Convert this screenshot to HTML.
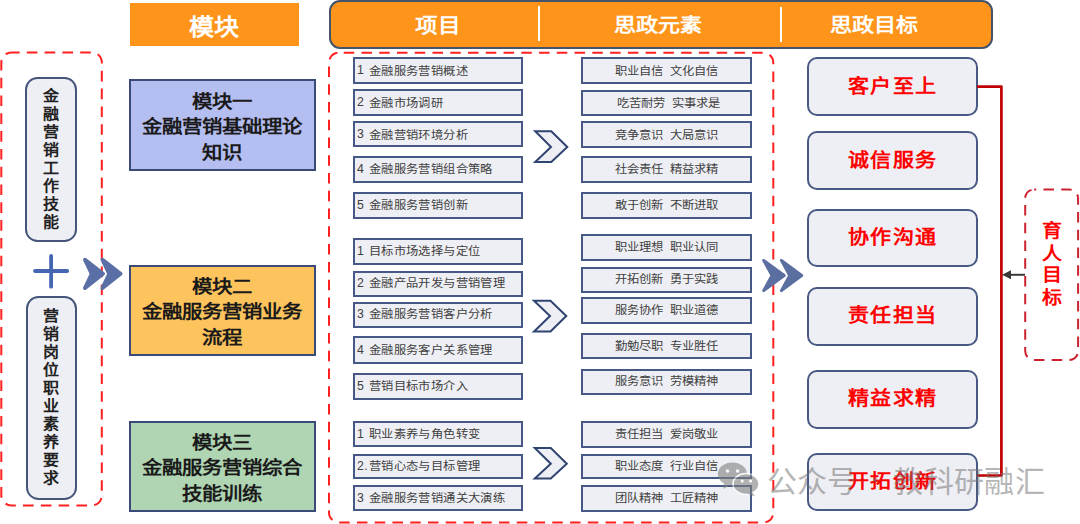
<!DOCTYPE html>
<html lang="zh-CN">
<head>
<meta charset="utf-8">
<style>
*{margin:0;padding:0;box-sizing:border-box;}
html,body{width:1080px;height:524px;overflow:hidden;background:#fff;}
body{position:relative;font-family:"Liberation Sans",sans-serif;}
.a{position:absolute;}
svg.a{left:0;top:0;}
.s{display:inline-block;transform:scaleY(0.9);white-space:pre;}
.hdr{color:#fff;font-weight:bold;font-size:22px;line-height:22px;text-align:center;}
.mod{border:2px solid #3A4B78;}
.mt{position:absolute;left:129.4px;width:186.2px;text-align:center;font-weight:bold;font-size:20.4px;line-height:28.45px;color:#1a1a1a;transform:scaleY(0.9);transform-origin:0 0;}
.vbox{background:#EEEFF4;border:2px solid #46567A;border-radius:12.5px;}
.vt{position:absolute;left:25.5px;width:51.5px;text-align:center;font-weight:bold;font-size:16px;line-height:19.35px;color:#222;transform:scaleY(0.93);transform-origin:0 0;}
.it{left:353px;width:170px;height:27px;background:#EEEFF4;border:2px solid #465886;font-size:12.3px;letter-spacing:0.37px;color:#404040;display:flex;align-items:center;padding-left:2px;padding-bottom:1px;white-space:pre;}
.it b{font-weight:normal;display:inline-block;width:12px;}
.el{left:581.2px;width:170.5px;height:27px;background:#EEEFF4;border:2px solid #465886;font-size:12.3px;color:#404040;display:flex;align-items:center;justify-content:center;white-space:pre;padding-bottom:1px;}
.goal{left:807px;width:170.8px;height:59px;background:#EEEFF4;border:2px solid #485A84;border-radius:10px;color:#FF0000;font-weight:bold;font-size:21px;letter-spacing:1.35px;padding-left:0.5px;display:flex;align-items:center;justify-content:center;padding-bottom:3.6px;}
</style>
</head>
<body>
<!-- under layer: dashed boxes -->
<svg class="a" width="1080" height="524" viewBox="0 0 1080 524">
  <rect x="1.3" y="52.4" width="100.5" height="453" rx="10" fill="none" stroke="#FF2020" stroke-width="2" stroke-dasharray="10.6 7.2" stroke-dashoffset="2.3"/>
  <rect x="329" y="52.7" width="444.3" height="469.8" rx="10" fill="none" stroke="#FF2020" stroke-width="2" stroke-dasharray="10.5 7.26" stroke-dashoffset="-4.7"/>
  <rect x="1025.2" y="189.5" width="52.9" height="170.5" rx="9" fill="none" stroke="#CC2230" stroke-width="2" stroke-dasharray="10.5 7.26" stroke-dashoffset="8.5"/>
</svg>

<!-- headers -->
<div class="a" style="left:130px;top:3px;width:169px;height:43px;background:#FE951A;"></div>
<div class="a" style="left:329px;top:0px;width:663.5px;height:49px;background:#FE951A;border:2px solid #44546A;border-radius:11px;"></div>
<div class="a" style="left:537.7px;top:5.6px;width:2.5px;height:35px;background:#fff;"></div>
<div class="a" style="left:779.7px;top:6.5px;width:2.5px;height:35px;background:#fff;"></div>
<div class="a hdr" style="left:129.5px;top:15.6px;width:169px;font-size:25px;"><span class="s">模块</span></div>
<div class="a hdr" style="left:381px;top:15.5px;width:114px;font-size:22.5px;"><span class="s">项目</span></div>
<div class="a hdr" style="left:600px;top:15px;width:116px;"><span class="s">思政元素</span></div>
<div class="a hdr" style="left:816px;top:15px;width:116px;"><span class="s">思政目标</span></div>

<!-- left vertical boxes -->
<div class="a vbox" style="left:25.2px;top:77.2px;width:51.6px;height:164.8px;"></div>
<div class="a vt" style="top:87px;">金<br>融<br>营<br>销<br>工<br>作<br>技<br>能</div>
<div class="a vbox" style="left:25.5px;top:295.8px;width:51.8px;height:204.2px;"></div>
<div class="a vt" style="top:306.8px;">营<br>销<br>岗<br>位<br>职<br>业<br>素<br>养<br>要<br>求</div>

<!-- modules -->
<div class="a mod" style="left:129.4px;top:79.4px;width:186.2px;height:91.3px;background:#B4BEF0;"></div>
<div class="mt" style="top:88.7px;">模块一<br>金融营销基础理论<br>知识</div>
<div class="a mod" style="left:129.4px;top:265px;width:186.2px;height:91.4px;background:#FDC35C;"></div>
<div class="mt" style="top:274.3px;">模块二<br>金融服务营销业务<br>流程</div>
<div class="a mod" style="left:129.4px;top:420.9px;width:186.2px;height:91.3px;background:#B0D5B3;"></div>
<div class="mt" style="top:429.8px;">模块三<br>金融服务营销综合<br>技能训练</div>

<!-- items left -->
<div class="a it" style="top:56.8px;height:27.6px;"><b>1</b><span class="s">金融服务营销概述</span></div>
<div class="a it" style="top:89.2px;height:26.9px;"><b>2</b><span class="s">金融市场调研</span></div>
<div class="a it" style="top:120.9px;height:26.6px;"><b>3</b><span class="s">金融营销环境分析</span></div>
<div class="a it" style="top:155.9px;height:27.3px;"><b>4</b><span class="s">金融服务营销组合策略</span></div>
<div class="a it" style="top:191.6px;height:27.7px;"><b>5</b><span class="s">金融服务营销创新</span></div>
<div class="a it" style="top:238.2px;height:26.7px;"><b>1</b><span class="s">目标市场选择与定位</span></div>
<div class="a it" style="top:270.8px;height:26.2px;"><b>2</b><span class="s">金融产品开发与营销管理</span></div>
<div class="a it" style="top:301.6px;height:26.7px;"><b>3</b><span class="s">金融服务营销客户分析</span></div>
<div class="a it" style="top:336.4px;height:27.7px;"><b>4</b><span class="s">金融服务客户关系管理</span></div>
<div class="a it" style="top:372.5px;height:27.3px;"><b>5</b><span class="s">营销目标市场介入</span></div>
<div class="a it" style="top:420.9px;height:26.5px;"><b>1</b><span class="s">职业素养与角色转变</span></div>
<div class="a it" style="top:453.5px;height:25.8px;"><b>2.</b><span class="s">营销心态与目标管理</span></div>
<div class="a it" style="top:485px;height:26.1px;"><b>3</b><span class="s">金融服务营销通关大演练</span></div>

<!-- elements right -->
<div class="a el" style="top:56.9px;height:27.3px;"><span class="s">职业自信  文化自信</span></div>
<div class="a el" style="top:89.5px;height:26.2px;"><span class="s"> 吃苦耐劳  实事求是</span></div>
<div class="a el" style="top:121px;height:26.6px;"><span class="s">竞争意识  大局意识</span></div>
<div class="a el" style="top:155.9px;height:27.1px;"><span class="s">社会责任  精益求精</span></div>
<div class="a el" style="top:191.6px;height:27px;"><span class="s">敢于创新  不断进取</span></div>
<div class="a el" style="top:234.4px;height:26.3px;"><span class="s">职业理想  职业认同</span></div>
<div class="a el" style="top:267px;height:25.6px;"><span class="s">开拓创新  勇于实践</span></div>
<div class="a el" style="top:297.4px;height:26.3px;"><span class="s">服务协作  职业道德</span></div>
<div class="a el" style="top:333.2px;height:26.3px;"><span class="s">勤勉尽职  专业胜任</span></div>
<div class="a el" style="top:368.7px;height:26.4px;"><span class="s">服务意识  劳模精神</span></div>
<div class="a el" style="top:420.9px;height:26.7px;"><span class="s">责任担当  爱岗敬业</span></div>
<div class="a el" style="top:453.5px;height:25.6px;"><span class="s">职业态度  行业自信</span></div>
<div class="a el" style="top:485.4px;height:26.2px;"><span class="s">团队精神  工匠精神</span></div>

<!-- goals -->
<div class="a goal" style="top:57px;"><span class="s">客户至上</span></div>
<div class="a goal" style="top:131.3px;height:58.4px;"><span class="s">诚信服务</span></div>
<div class="a goal" style="top:208.6px;height:58.1px;"><span class="s">协作沟通</span></div>
<div class="a goal" style="top:287px;height:58.5px;"><span class="s">责任担当</span></div>
<div class="a goal" style="top:369.5px;"><span class="s">精益求精</span></div>
<div class="a goal" style="top:453px;height:58.3px;"><span class="s">开拓创新</span></div>

<!-- 育人目标 -->
<div class="a" style="left:1025px;top:219.8px;width:54px;text-align:center;color:#FF0000;font-weight:bold;font-size:20px;line-height:24.6px;transform:scaleY(0.9);transform-origin:0 0;">育<br>人<br>目<br>标</div>

<!-- over layer -->
<svg class="a" width="1080" height="524" viewBox="0 0 1080 524">
  <!-- plus -->
  <g stroke="#4566B2" stroke-width="3.8" stroke-linecap="round">
    <line x1="35" y1="271" x2="67.2" y2="271"/>
    <line x1="51.1" y1="256" x2="51.1" y2="286.7"/>
  </g>
  <!-- left double chevron -->
  <g fill="#5A6FA5" stroke="#5A6FA5" stroke-width="4" stroke-linejoin="round">
    <path d="M85 259.7 L103 273.8 L85 288 L91.8 273.8 Z"/>
    <path d="M102.5 259.7 L120.5 273.8 L102.5 288 L109.3 273.8 Z"/>
  </g>
  <!-- mid chevrons -->
  <g fill="#EEEFF4" stroke="#2F4470" stroke-width="2">
    <path d="M535.2 131.2 L551.3 131.2 L567.3 147 L551.3 162 L535.2 162 L551 147 Z"/>
    <path d="M534 300.7 L550.5 300.7 L566.3 316 L550.5 331.5 L534 331.5 L550 316 Z"/>
    <path d="M534.8 448 L550.8 448 L566.8 463.8 L550.8 478.4 L534.8 478.4 L550.8 463.8 Z"/>
  </g>
  <!-- big double chevron -->
  <g fill="#5A6FA0" stroke="#5A6FA0" stroke-width="3" stroke-linejoin="round">
    <path d="M763.7 260.4 L784.2 275.5 L763.7 290.6 L772 275.5 Z"/>
    <path d="M781.4 260.4 L801.7 275.5 L781.4 290.6 L789.7 275.5 Z"/>
  </g>
  <!-- red connector -->
  <path d="M977 86.7 H1001.4 V475.5 H977" fill="none" stroke="#C00000" stroke-width="2.7" stroke-linejoin="round"/>
  <!-- arrow -->
  <line x1="1025" y1="274.8" x2="1008" y2="274.8" stroke="#3A3A3A" stroke-width="2"/>
  <path d="M1002 274.8 L1011 270.3 L1011 279.3 Z" fill="#3A3A3A"/>
</svg>

<!-- watermark -->
<div class="a" style="left:716px;top:460px;width:46px;height:38px;opacity:0.6;">
  <svg width="46" height="38" viewBox="0 0 46 38">
    <ellipse cx="16.4" cy="14" rx="14.5" ry="11.6" fill="#808080"/>
    <path d="M8 22 L7.5 29 L14 25 Z" fill="#808080"/>
    <ellipse cx="30" cy="24" rx="13" ry="10.4" fill="#808080" stroke="#fff" stroke-width="1.5"/>
    <path d="M36 32 L39 36.5 L31 33.5 Z" fill="#808080"/>
    <circle cx="11.5" cy="11" r="1.8" fill="#fff"/>
    <circle cx="21.6" cy="11" r="1.8" fill="#fff"/>
    <circle cx="26.2" cy="21" r="1.5" fill="#fff"/>
    <circle cx="34.6" cy="21" r="1.5" fill="#fff"/>
  </svg>
</div>
<div class="a" style="left:767px;top:464.5px;font-size:30px;line-height:34px;color:rgba(110,110,110,0.52);font-weight:500;white-space:pre;">公众号</div>
<div class="a" style="left:872.5px;top:478px;width:4px;height:4px;border-radius:2px;background:rgba(110,110,110,0.55);"></div>
<div class="a" style="left:893.2px;top:465px;font-size:30px;line-height:34px;color:rgba(110,110,110,0.52);font-weight:500;white-space:pre;letter-spacing:0.4px;">教科研融汇</div>
</body>
</html>
